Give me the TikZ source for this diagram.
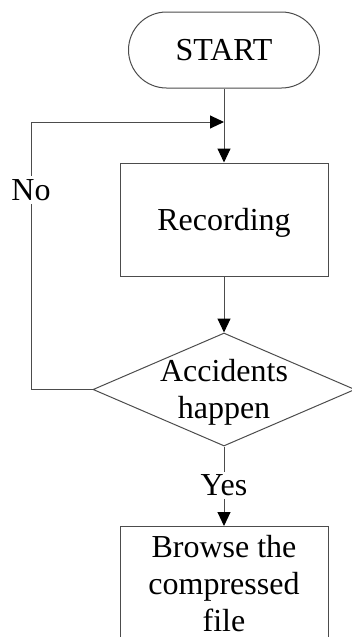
\documentclass[tikz,border=0pt]{standalone}
\usepackage{fontspec}
\setmainfont{Liberation Serif}
\usetikzlibrary{arrows.meta,shapes.geometric}
\begin{document}
\begin{tikzpicture}[x=1pt,y=1pt,
  every node/.style={font=\fontsize{32}{37}\selectfont},
  line/.style={draw=black!70, line width=1pt},
  arr/.style={line, -{Triangle[width=13pt,length=14pt,color=black]}},
  box/.style={draw=black!70, line width=1pt, rectangle, minimum width=208pt, inner sep=0pt},
  dia/.style={draw=black!70, line width=1pt, diamond, minimum width=262pt, minimum height=113pt, inner sep=0pt},
  term/.style={draw=black!70, line width=1pt, rectangle, rounded corners=38pt, minimum width=191pt, minimum height=76pt},
  lbl/.style={fill=white}
]
\useasboundingbox (0,0) rectangle (352,-637);
\clip (0,0) rectangle (352,-637);

% flow elements
\node[term, text depth=0pt] (start) at (224,-50) {START};
\node[box, minimum height=113pt, text depth=0pt] (rec) at (224,-219.5) {Recording};
\node[dia] (dec) at (224,-389.5) {};
\node[align=center] (dectext) at (224,-392) {Accidents\\happen};
\node[box, minimum height=130pt, anchor=north] (browse) at (224,-526) {};
\node[align=center, anchor=north, inner sep=2pt] (browsetext) at (224,-533) {Browse the\\compressed\\file};

% feedback loop corners
\coordinate (fbtop) at (31,-122);
\coordinate (join) at (224,-122);

% connectors
\draw[arr] (start.south) -- (rec.north);
\draw[arr] (rec.south) -- (dec.north);
\draw[arr] (dec.west) -| (fbtop) -- (join);
\draw[arr] (dec.south) -- (browse.north);

% branch labels
\node[lbl] (no) at (31,-190) {No};
\node[lbl] (yes) at (224,-485.5) {Yes};
\end{tikzpicture}
\end{document}
